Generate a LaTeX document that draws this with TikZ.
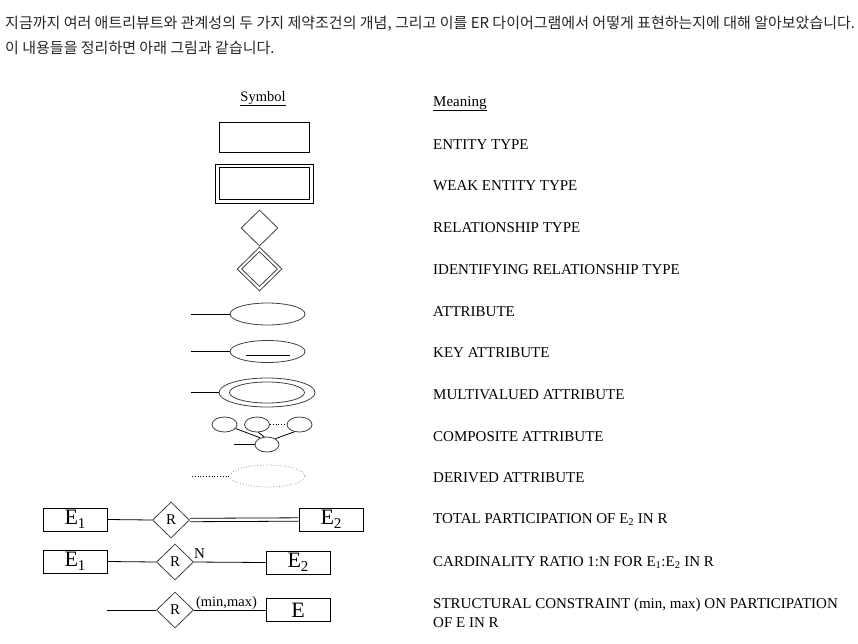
\documentclass[tikz,border=0pt]{standalone}
\usepackage{fontspec}
\setmainfont{Liberation Serif}
\newfontfamily\krfont{Noto Sans CJK KR}
\usetikzlibrary{shapes.geometric, calc}

\newcommand{\esub}[2]{#1\raisebox{-3.5pt}{\fontsize{15}{15}\selectfont #2}}

\begin{document}
\begin{tikzpicture}[
    x=1pt, y=-1pt,
    entbox/.style={draw, line width=0.9pt, inner sep=0pt, minimum width=90pt, minimum height=30pt},
    relshape/.style={diamond, draw=black!75, line width=0.8pt, inner sep=0pt, minimum width=37pt, minimum height=36pt, font=\fontsize{15}{15}\selectfont},
    attshape/.style={ellipse, draw=black!75, line width=0.8pt, inner sep=0pt, minimum width=75pt, minimum height=22pt},
    smallatt/.style={ellipse, draw=black!75, line width=0.8pt, inner sep=0pt, minimum width=25pt, minimum height=15pt},
    rowbox/.style={draw, line width=0.9pt, inner sep=0pt, minimum width=64pt, minimum height=23pt, font=\fontsize{22}{22}\selectfont},
    meaning/.style={anchor=base west, inner sep=0pt, align=left, font=\fontsize{15}{19}\selectfont},
    krtext/.style={anchor=base west, inner sep=0pt, text=black!85, font=\krfont\fontsize{15}{16}\selectfont},
    link/.style={line width=0.8pt},
]
  \useasboundingbox (0,0) rectangle (858,643);

  % intro text
  \node[krtext] (intro1) at (5,28) {지금까지 여러 애트리뷰트와 관계성의 두 가지 제약조건의 개념, 그리고 이를 ER 다이어그램에서 어떻게 표현하는지에 대해 알아보았습니다.};
  \node[krtext] (intro2) at (5,53) {이 내용들을 정리하면 아래 그림과 같습니다.};

  % headers
  \node[anchor=base, inner sep=0pt, font=\fontsize{14.5}{16}\selectfont] (symhead) at (263,101) {\underline{Symbol}};
  \node[meaning] (meanhead) at (433,106) {\underline{Meaning}};

  % entity types
  \node[entbox] (ent) at (264,137) {};
  \node[entbox, minimum width=98pt, minimum height=39pt] (weakout) at (264,183.5) {};
  \node[entbox, minimum width=90pt, minimum height=32pt] (weakin) at (264,183.5) {};

  % relationship types
  \node[relshape] (rel) at (259.5,228) {};
  \node[relshape, minimum width=45pt, minimum height=44pt] (idrelout) at (259.5,269) {};
  \node[relshape, minimum width=36pt, minimum height=35pt] (idrelin) at (259.5,269) {};

  % attributes
  \node[attshape] (att) at (267.5,314) {};
  \coordinate (attend) at (191,314);
  \draw[link] (attend) -- (att.west);

  \node[attshape] (keyatt) at (267.5,351.5) {};
  \coordinate (keyend) at (191,351.5);
  \draw[link] (keyend) -- (keyatt.west);
  \draw[link] ([xshift=-22pt,yshift=-3.5pt]keyatt.center) -- ([xshift=22pt,yshift=-3.5pt]keyatt.center);

  \node[attshape, minimum width=96pt, minimum height=29pt] (multout) at (267,392.5) {};
  \node[attshape, minimum width=75pt, minimum height=21pt] (multin) at (267,392.5) {};
  \coordinate (multend) at (191,392.5);
  \draw[link] (multend) -- (multout.west);

  \node[smallatt] (comp1) at (224.5,424.5) {};
  \node[smallatt] (comp2) at (257,424.5) {};
  \node[smallatt] (comp3) at (299.5,424.5) {};
  \node[smallatt, minimum width=24pt] (compbase) at (267,444.5) {};
  \coordinate (compend) at (234,444.5);
  \draw[link] (comp1.-20) -- (compbase.135);
  \draw[link] (comp2.-80) -- (compbase.110);
  \draw[link] (comp3.235) -- (compbase.35);
  \draw[link, dotted] (comp2.east) -- (comp3.west);
  \draw[link] (compend) -- (compbase.west);

  \node[attshape, draw=black!40, dotted] (derived) at (267.5,476) {};
  \coordinate (derend) at (192,476);
  \draw[link, dotted] (derend) -- (derived.west);

  % total participation
  \node[rowbox] (tpa) at (75,519.5) {\esub{E}{1}};
  \node[relshape] (tprel) at (171,520) {R};
  \node[rowbox] (tpb) at (331,519.5) {\esub{E}{2}};
  \draw[link] (tpa.east) -- (tprel.west);
  \draw[link] ([yshift=1.7pt]tprel.east) -- ([yshift=1.7pt]tpb.west);
  \draw[link] ([yshift=-1.7pt]tprel.east) -- ([yshift=-1.7pt]tpb.west);

  % cardinality ratio
  \node[rowbox] (cra) at (75,561.5) {\esub{E}{1}};
  \node[relshape] (crrel) at (175,562) {R};
  \node[rowbox] (crb) at (298,562.5) {\esub{E}{2}};
  \draw[link] (cra.east) -- (crrel.west);
  \draw[link] (crrel.east) -- (crb.west);
  \node[inner sep=0pt, font=\fontsize{15}{15}\selectfont] (crlabel) at (199.5,554) {N};

  % structural constraint
  \coordinate (scend) at (107,610);
  \node[relshape] (screl) at (175,610) {R};
  \node[rowbox] (sce) at (298,610) {E};
  \draw[link] (scend) -- (screl.west);
  \draw[link] (screl.east) -- (sce.west);
  \node[inner sep=0pt, font=\fontsize{14.5}{15}\selectfont] (sclabel) at (226.5,603) {(min,max)};

  % meanings
  \node[meaning] (m1) at (433,149) {ENTITY TYPE};
  \node[meaning] (m2) at (433,190) {WEAK ENTITY TYPE};
  \node[meaning] (m3) at (433,232) {RELATIONSHIP TYPE};
  \node[meaning] (m4) at (433,274) {IDENTIFYING RELATIONSHIP TYPE};
  \node[meaning] (m5) at (433,316) {ATTRIBUTE};
  \node[meaning] (m6) at (433,357) {KEY ATTRIBUTE};
  \node[meaning] (m7) at (433,399) {MULTIVALUED ATTRIBUTE};
  \node[meaning] (m8) at (433,441) {COMPOSITE ATTRIBUTE};
  \node[meaning] (m9) at (433,482) {DERIVED ATTRIBUTE};
  \node[meaning] (m10) at (433,523) {TOTAL PARTICIPATION OF E\textsubscript{2} IN R};
  \node[meaning] (m11) at (433,566) {CARDINALITY RATIO 1:N FOR E\textsubscript{1}:E\textsubscript{2} IN R};
  \node[meaning] (m12) at (433,627) {STRUCTURAL CONSTRAINT (min, max) ON PARTICIPATION\\OF E IN R};
\end{tikzpicture}
\end{document}
